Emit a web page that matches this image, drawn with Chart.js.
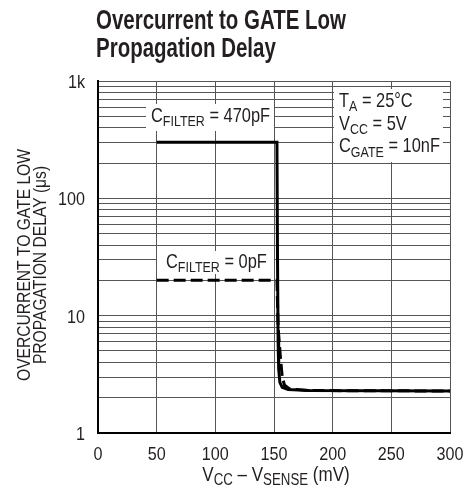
<!DOCTYPE html>
<html>
<head>
<meta charset="utf-8">
<script src="https://cdn.jsdelivr.net/npm/chart.js@4"></script>
<style>
  body { margin: 0; background: #fff; }
  #wrap { width: 476px; height: 489px; position: relative; }
</style>
</head>
<body>
<div id="wrap"><canvas id="grafico"></canvas></div>
<script>
// datos
const xFilter470 = [50, 152.5, 153, 153.5, 154, 155, 157, 162, 180, 300];
const yFilter470 = [300, 300, 30, 6, 3.5, 2.7, 2.45, 2.35, 2.3, 2.28];
const xFilter0 = [50, 152.5, 153.5, 155.5, 157, 159, 163, 180, 300];
const yFilter0 = [20, 20, 8, 4.4, 3, 2.55, 2.38, 2.3, 2.28];
const xTicks = [0, 50, 100, 150, 200, 250, 300];
const yGridValues = [1, 2, 3, 4, 5, 6, 7, 8, 9, 10, 20, 30, 40, 50, 60, 70, 80, 90,
                     100, 200, 300, 400, 500, 600, 700, 800, 900, 1000];
const yDecades = [1, 10, 100, 1000];
const yTickLabels = ['1', '10', '100', '1k'];

const FONT = '"Liberation Sans", Arial, Helvetica, sans-serif';
const SX = 0.83;   // condensar el texto horizontalmente
const COLOR_TXT = '#231f20';

function toPoints(xs, ys) {
  return xs.map(function (x, i) { return { x: x, y: ys[i] }; });
}

// texto condensado, devuelve el ancho
function txt(ctx, s, x, y, size, align, sx, bold) {
  sx = sx || SX;
  ctx.font = (bold ? 'bold ' : '') + size + 'px ' + FONT;
  const w = ctx.measureText(s).width * sx;
  let x0 = x;
  if (align === 'center') x0 = x - w / 2;
  if (align === 'right') x0 = x - w;
  ctx.save();
  ctx.translate(x0, y);
  ctx.scale(sx, 1);
  ctx.textAlign = 'left';
  ctx.fillText(s, 0, 0);
  ctx.restore();
  return w;
}

// texto con subindices: partes [texto, esSubindice]
function textoSub(ctx, partes, x, y, size, align) {
  let total = 0;
  partes.forEach(function (p) {
    ctx.font = (p[1] ? Math.round(size * 0.76) : size) + 'px ' + FONT;
    total += ctx.measureText(p[0]).width * SX;
  });
  let cx = x;
  if (align === 'center') cx = x - total / 2;
  partes.forEach(function (p) {
    if (p[1]) cx += txt(ctx, p[0], cx, y + size * 0.24, Math.round(size * 0.76));
    else cx += txt(ctx, p[0], cx, y, size);
  });
}

const textos = {
  id: 'textos',
  afterDatasetsDraw(chart) {
    const ctx = chart.ctx;
    const xs = chart.scales.x;
    const ys = chart.scales.y;
    ctx.save();
    ctx.fillStyle = COLOR_TXT;
    ctx.textBaseline = 'alphabetic';

    // titulo
    ctx.font = 'bold 27px ' + FONT;
    const sxT = 250 / ctx.measureText('Overcurrent to GATE Low').width;
    txt(ctx, 'Overcurrent to GATE Low', 96, 28.5, 27, 'left', sxT, true);
    txt(ctx, 'Propagation Delay', 96, 57, 27, 'left', sxT, true);

    // etiquetas de los ejes
    xTicks.forEach(function (v) {
      txt(ctx, String(v), xs.getPixelForValue(v), 459.5, 19, 'center', 0.85);
    });
    yDecades.forEach(function (v, i) {
      txt(ctx, yTickLabels[i], 85, ys.getPixelForValue(v) + 7, 19, 'right', 0.85);
    });

    // cajas de etiquetas
    ctx.fillStyle = '#fff';
    ctx.fillRect(146, 104, 128, 27);
    ctx.fillRect(157, 251, 117, 23);
    ctx.fillRect(334, 89, 109, 73);
    ctx.fillStyle = COLOR_TXT;
    textoSub(ctx, [['C', 0], ['FILTER', 1], [' = 470pF', 0]], 151, 121.5, 19.8);
    textoSub(ctx, [['C', 0], ['FILTER', 1], [' = 0pF', 0]], 166, 267.5, 19.8);
    textoSub(ctx, [['T', 0], ['A', 1], [' = 25°C', 0]], 339, 106.5, 19.8);
    textoSub(ctx, [['V', 0], ['CC', 1], [' = 5V', 0]], 339, 129.5, 19.8);
    textoSub(ctx, [['C', 0], ['GATE', 1], [' = 10nF', 0]], 339, 152, 19.8);

    // titulo eje x
    textoSub(ctx, [['V', 0], ['CC', 1], [' \u2013 V', 0], ['SENSE', 1], [' (mV)', 0]],
      (chart.chartArea.left + chart.chartArea.right) / 2 + 2, 480.5, 20.5, 'center');

    // titulo eje y
    ctx.translate(0, 265);
    ctx.rotate(-Math.PI / 2);
    ctx.font = '17.5px ' + FONT;
    const sxY = 232 / ctx.measureText('OVERCURRENT TO GATE LOW').width;
    txt(ctx, 'OVERCURRENT TO GATE LOW', 0, 30, 17.5, 'center', sxY);
    txt(ctx, 'PROPAGATION DELAY (\u03bcs)', 0, 46, 17.5, 'center', sxY);
    ctx.restore();
  }
};

const ctx = document.getElementById('grafico').getContext('2d');
const grafico = new Chart(ctx, {
  type: 'line',
  data: {
    datasets: [
      {
        label: 'CFILTER = 470pF',
        data: toPoints(xFilter470, yFilter470),
        borderColor: '#000',
        borderWidth: 3,
        pointRadius: 0,
        tension: 0,
        fill: false
      },
      {
        label: 'CFILTER = 0pF',
        data: toPoints(xFilter0, yFilter0),
        borderColor: '#000',
        borderWidth: 3,
        borderDash: [12, 5],
        pointRadius: 0,
        tension: 0,
        fill: false
      }
    ]
  },
  options: {
    responsive: true,
    maintainAspectRatio: false,
    animation: false,
    layout: { padding: { left: 0, right: 26, top: 81, bottom: 0 } },
    plugins: {
      legend: { display: false },
      tooltip: { enabled: false },
      title: { display: false }
    },
    scales: {
      x: {
        type: 'linear',
        min: 0,
        max: 300,
        afterBuildTicks: function (axis) {
          axis.ticks = xTicks.map(function (v) { return { value: v }; });
        },
        afterFit: function (axis) { axis.height = 56; },
        ticks: { display: false },
        grid: { color: '#555', lineWidth: 1, drawTicks: false },
        border: { color: '#000', width: 2 }
      },
      y: {
        type: 'logarithmic',
        min: 1,
        max: 1000,
        afterBuildTicks: function (axis) {
          axis.ticks = yGridValues.map(function (v) { return { value: v }; });
        },
        afterFit: function (axis) { axis.width = 98; },
        ticks: { display: false },
        grid: { color: '#555', lineWidth: 1, drawTicks: false },
        border: { color: '#000', width: 2 }
      }
    }
  },
  plugins: [textos]
});
</script>
</body>
</html>
